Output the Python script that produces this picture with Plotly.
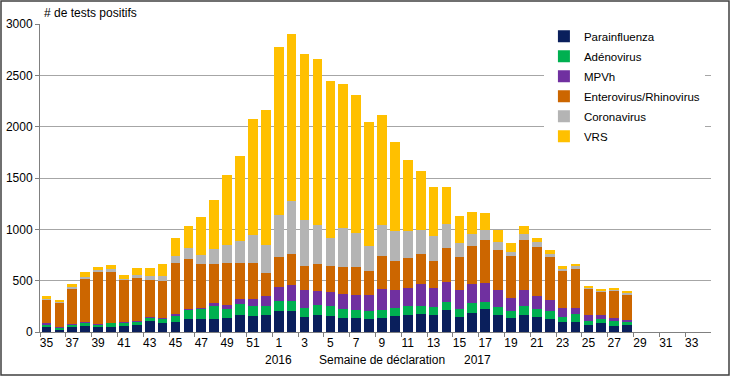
import plotly.graph_objects as go

weeks = [str(w) for w in range(35, 53)] + [str(w) for w in range(1, 35)]

parainfluenza = [45, 22, 45, 55, 45, 45, 55, 65, 104, 85, 94, 130, 130, 130, 140, 169, 152, 169,
                 201, 201, 146, 169, 159, 136, 136, 130, 136, 152, 169, 178, 169, 217, 146, 185,
                 224, 169, 136, 169, 146, 130, 97, 97, 65, 84, 55, 65]
adenovirus = [25, 23, 25, 40, 27, 43, 40, 40, 39, 42, 71, 87, 94, 126, 87, 104, 104, 87,
              104, 104, 88, 94, 91, 88, 75, 71, 81, 82, 81, 72, 74, 72, 78, 97,
              71, 71, 65, 81, 78, 71, 49, 81, 45, 43, 49, 39]
mpvh = [15, 3, 5, 2, 3, 2, 5, 5, 3, 9, 13, 10, 10, 26, 33, 51, 65, 91,
        133, 149, 178, 139, 136, 143, 146, 156, 202, 178, 178, 217, 185, 194, 188, 185,
        182, 172, 127, 162, 123, 114, 88, 56, 52, 35, 32, 16]
entero = [230, 242, 350, 428, 515, 495, 408, 420, 364, 357, 494, 487, 428, 383, 412, 348, 351, 227,
          289, 309, 234, 263, 253, 263, 273, 234, 321, 276, 292, 296, 260, 338, 315, 367,
          422, 389, 409, 487, 477, 418, 366, 386, 260, 234, 266, 250]
corona = [10, 8, 10, 15, 10, 28, 7, 25, 38, 49, 65, 104, 84, 143, 178, 211, 276, 270,
          415, 509, 448, 380, 276, 379, 334, 249, 305, 292, 267, 227, 243, 234, 139, 120,
          91, 78, 42, 55, 52, 30, 17, 19, 10, 10, 10, 10]
vrs = [22, 17, 31, 40, 38, 35, 43, 68, 75, 120, 178, 217, 374, 474, 675, 827, 1129, 1320,
       1633, 1629, 1616, 1616, 1528, 1411, 1346, 1204, 1068, 870, 691, 581, 477, 353, 260, 214,
       168, 117, 87, 75, 39, 32, 22, 26, 13, 13, 13, 13]

series = [
    ("Parainfluenza", parainfluenza, "#0a1f5c"),
    ("Adénovirus", adenovirus, "#00b050"),
    ("MPVh", mpvh, "#7030a0"),
    ("Enterovirus/Rhinovirus", entero, "#cc6600"),
    ("Coronavirus", corona, "#b4b4b4"),
    ("VRS", vrs, "#ffc000"),
]

idx = {w: i for i, w in enumerate(weeks)}

fig = go.Figure()
for name, vals, col in series:
    fig.add_trace(go.Bar(x=list(range(len(vals))), y=vals, name=name, legendgroup=name,
                         marker=dict(color=col, line=dict(width=0))))

ml, mr, mt, mb = 40, 19, 24, 44
W, H = 730, 376
pw, ph = W - ml - mr, H - mt - mb

tickpos = list(range(0, len(weeks), 2))
fig.update_layout(
    width=W, height=H,
    margin=dict(l=ml, r=mr, t=mt, b=mb, autoexpand=False),
    barmode="stack", bargap=0.25,
    paper_bgcolor="white", plot_bgcolor="white",
    font=dict(family="Liberation Sans, Arial, sans-serif", size=12, color="#000000"),
    showlegend=True,
    legend=dict(x=0.751, y=1.007, xanchor="left", yanchor="top", traceorder="grouped",
                bgcolor="white", borderwidth=0, font=dict(size=11.5),
                itemwidth=30, tracegroupgap=1),
    xaxis=dict(tickmode="array", tickvals=tickpos, ticktext=[weeks[i] for i in tickpos],
               tickangle=0, ticks="", showline=True, linecolor="#808080", linewidth=1,
               showgrid=False, zeroline=False, tickfont=dict(size=12),
               range=[-0.5, len(weeks) - 0.5], automargin=False),
    xaxis2=dict(overlaying="x", matches="x", tickmode="array",
                tickvals=[i - 0.5 for i in tickpos], ticktext=["" for _ in tickpos],
                ticks="outside", ticklen=4, tickcolor="#808080", side="bottom",
                showgrid=False, zeroline=False, showline=False, automargin=False),
    yaxis=dict(range=[0, 3000], dtick=500, tickmode="linear", tick0=0,
               showgrid=True, gridcolor="#a6a6a6", gridwidth=1,
               showline=True, linecolor="#808080", linewidth=1,
               ticks="outside", ticklen=4, tickcolor="#808080",
               tickfont=dict(size=12), zeroline=False, automargin=False),
)
fig.add_trace(go.Scatter(x=[0], y=[None], xaxis="x2", showlegend=False, hoverinfo="skip"))

fig.add_annotation(text="# de tests positifs", xref="paper", yref="paper",
                   x=0.003, y=1.0, xanchor="left", yanchor="bottom", yshift=2,
                   showarrow=False, font=dict(size=12))
fig.add_annotation(text="2016", xref="x", yref="paper", x=idx["1"], y=-0.062,
                   xanchor="center", yanchor="top", showarrow=False, font=dict(size=12))
fig.add_annotation(text="Semaine de déclaration", xref="x", yref="paper", x=idx["9"], y=-0.062,
                   xanchor="center", yanchor="top", showarrow=False, font=dict(size=12))
fig.add_annotation(text="2017", xref="x", yref="paper", x=idx["16"] + 0.4, y=-0.062,
                   xanchor="center", yanchor="top", showarrow=False, font=dict(size=12))

fig.add_shape(type="rect", xref="paper", yref="paper",
              x0=(-ml + 1) / pw, x1=(pw + mr - 1) / pw,
              y0=(-mb + 1) / ph, y1=(ph + mt - 1) / ph,
              line=dict(color="#404040", width=1.5), fillcolor="rgba(0,0,0,0)", layer="above")

fig.write_html("out.html", config={"displayModeBar": False},
               post_script="document.body.style.margin='0';")
